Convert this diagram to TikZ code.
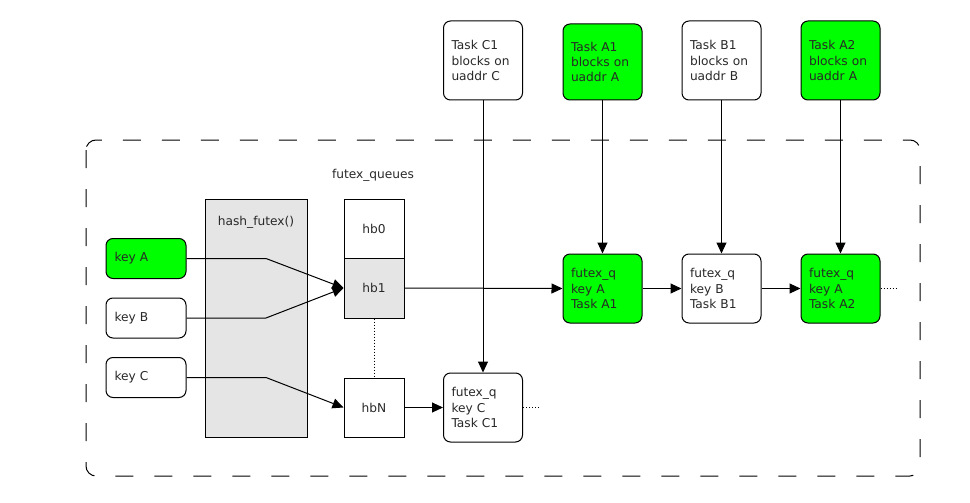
\documentclass[tikz,border=0pt]{standalone}
\usepackage{fontspec}
\setmainfont{DejaVu Sans}
\usetikzlibrary{arrows.meta}
\definecolor{fgreen}{RGB}{0,255,0}
\definecolor{fgrey}{RGB}{229,229,229}
\definecolor{ink}{RGB}{40,40,40}
\tikzset{
  rbox/.style={draw, rounded corners=7pt, line width=1pt, inner sep=0pt, inner xsep=8pt,
    text width=63pt, align=left, minimum width=79pt, anchor=center},
  sbox/.style={draw, line width=1pt, inner sep=0pt, minimum width=60pt, align=center},
  conn/.style={line width=1pt, -{Triangle[length=11pt,width=10pt]}},
  dots/.style={line width=1pt, dash pattern=on 1pt off 2pt}
}
\begin{document}
\begin{tikzpicture}[x=1pt,y=-1pt, font=\fontsize{12.2}{15.2}\selectfont, text=ink]
\useasboundingbox (0,0) rectangle (970,503);
% dashed container
\draw[line width=1pt, dash pattern=on 18pt off 21pt, rounded corners=10pt] (86,140) rectangle (920,476);
\node (fqlabel) at (373,175) {futex\_queues};
% hash box
\node[sbox, fill=fgrey, minimum width=102pt, minimum height=238pt] (hash) at (256,318) {};
\node (hashlabel) at (256,222) {hash\_futex()};
% hb column
\node[sbox, minimum height=59pt] (hb0) at (374,228.5) {hb0};
\node[sbox, fill=fgrey, minimum height=60pt] (hb1) at (374,288) {hb1};
\node[sbox, minimum height=59pt] (hbN) at (374,407.5) {hbN};
% keys
\node[rbox, fill=fgreen, minimum height=40pt, text width=63pt, minimum width=80pt] (keyA) at (146,258.5) {key A};
\node[rbox, minimum height=40pt, text width=63pt, minimum width=80pt] (keyB) at (146,318) {key B};
\node[rbox, minimum height=40pt, text width=63pt, minimum width=80pt] (keyC) at (146,377.5) {key C};
% futex_q nodes
\node[rbox, minimum height=69pt] (fqC) at (483,407.5) {futex\_q\\key C\\Task C1};
\node[rbox, fill=fgreen, minimum height=69pt] (fqA1) at (602.5,288.5) {futex\_q\\key A\\Task A1};
\node[rbox, minimum height=69pt] (fqB1) at (721.5,288.5) {futex\_q\\key B\\Task B1};
\node[rbox, fill=fgreen, minimum height=69pt] (fqA2) at (840.5,288.5) {futex\_q\\key A\\Task A2};
% tasks
\node[rbox, minimum height=79pt] (tC1) at (483,60.5) {Task C1\\blocks on\\uaddr C};
\node[rbox, fill=fgreen, minimum height=76pt] (tA1) at (602.5,62) {Task A1\\blocks on\\uaddr A};
\node[rbox, minimum height=79pt] (tB1) at (721.5,60.5) {Task B1\\blocks on\\uaddr B};
\node[rbox, fill=fgreen, minimum height=79pt] (tA2) at (840.5,60.5) {Task A2\\blocks on\\uaddr A};
% key connectors
\draw[conn] (keyA.east) -- (266,258.5) -- (hb1.west);
\draw[conn] (keyB.east) -- (266,318) -- (hb1.west);
\draw[conn] (keyC.east) -- (266,377.5) -- (hbN.west);
% chains
\draw[conn] (hb1.east) -- (fqA1.west);
\draw[conn] (fqA1.east) -- (fqB1.west);
\draw[conn] (fqB1.east) -- (fqA2.west);
\draw[conn] (hbN.east) -- (fqC.west);
\draw[conn] (tC1.south) -- (fqC.north);
\draw[conn] (tA1.south) -- (fqA1.north);
\draw[conn] (tB1.south) -- (fqB1.north);
\draw[conn] (tA2.south) -- (fqA2.north);
% dotted
\draw[dots] (hb1.south) -- (hbN.north);
\coordinate (endA) at (897,288.5);
\coordinate (endC) at (540,407.5);
\draw[dots] (fqA2.east) -- (endA);
\draw[dots] (fqC.east) -- (endC);
\end{tikzpicture}
\end{document}
